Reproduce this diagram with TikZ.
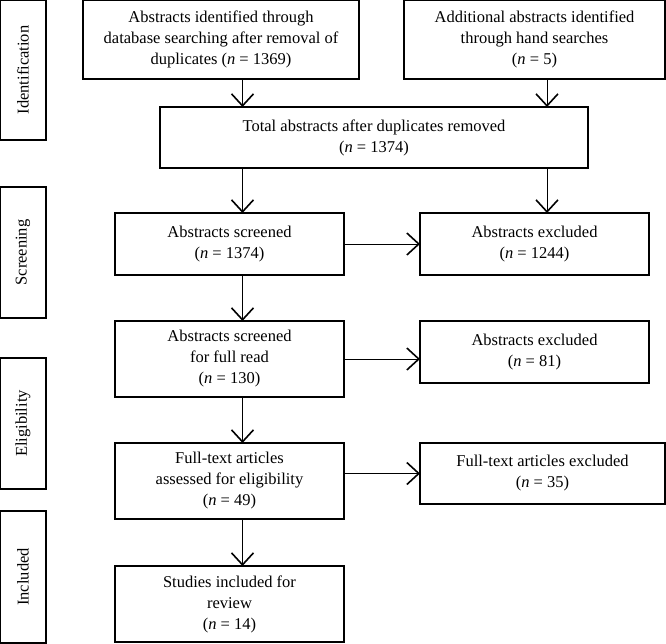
\documentclass[tikz,border=0pt]{standalone}
\usepackage{fontspec}
\setmainfont{Liberation Serif}
\usetikzlibrary{positioning}
\usetikzlibrary{arrows.meta}
\newcommand{\nval}[1]{(\textit{n} = #1)}

\begin{document}
\begin{tikzpicture}[x=1pt, y=1pt,
    every node/.style={font=\fontsize{16.5}{21}\selectfont, inner sep=0pt, outer sep=0pt},
    flowbox/.style={draw, line width=1.3pt, align=center, minimum width=229pt, minimum height=62pt},
    stagebox/.style={draw, line width=1.3pt, rotate=90, minimum width=131pt, minimum height=46pt},
    flowarrow/.style={line width=1pt, -{Straight Barb[length=12pt, width=22pt, line width=1.6pt]}}]
    \useasboundingbox (0,0) rectangle (666,-643);
    % stages
    \node[stagebox, minimum width=140pt] (ident) at (23,-70) {Identification};
    \node[stagebox] (screen) at (23,-252.5) {Screening};
    \node[stagebox] (elig) at (23,-423.5) {Eligibility};
    \node[stagebox, minimum width=132pt] (incl) at (23,-577) {Included};
    % boxes
    \node[flowbox, minimum width=276pt, minimum height=79pt] (dbs) at (221,-39.5) {Abstracts identified through\\database searching after removal of\\duplicates \nval{1369}};
    \node[flowbox, minimum width=261pt, minimum height=79pt, right=45pt of dbs] (hand) {Additional abstracts identified\\through hand searches\\\nval{5}};
    \node[flowbox, minimum width=428pt, minimum height=61pt] (total) at (374,-137.5) {Total abstracts after duplicates removed\\\nval{1374}};
    \node[flowbox] (scr) at (229.5,-244) {Abstracts screened\\\nval{1374}};
    \node[flowbox, right=76pt of scr] (exc1) {Abstracts excluded\\\nval{1244}};
    \node[flowbox, minimum height=76pt, below=46pt of scr] (full) {Abstracts screened\\for full read\\\nval{130}};
    \node[flowbox, right=76pt of full.north east, anchor=north west] (exc2) {Abstracts excluded\\\nval{81}};
    \node[flowbox, minimum height=76pt, below=46pt of full] (ftx) {Full-text articles\\assessed for eligibility\\\nval{49}};
    \node[flowbox, minimum width=245pt, minimum height=61pt, right=76pt of ftx.north east, anchor=north west] (exc3) {Full-text articles excluded\\\nval{35}};
    \node[flowbox, minimum height=76pt, below=47pt of ftx] (stud) {Studies included for\\review\\\nval{14}};
    % arrow columns
    \coordinate (colL) at (242.5,0);
    \coordinate (colR) at (547,0);
    \draw[flowarrow] (dbs.south -| colL) -- (total.north -| colL);
    \draw[flowarrow] (hand.south -| colR) -- (total.north -| colR);
    \draw[flowarrow] (total.south -| colL) -- (scr.north -| colL);
    \draw[flowarrow] (total.south -| colR) -- (exc1.north -| colR);
    \draw[flowarrow] (scr) -- (exc1);
    \draw[flowarrow] (scr.south -| colL) -- (full.north -| colL);
    \draw[flowarrow] (full.east) -- (full -| exc2.west);
    \draw[flowarrow] (full.south -| colL) -- (ftx.north -| colL);
    \draw[flowarrow] (ftx.east |- exc3) -- (exc3.west);
    \draw[flowarrow] (ftx.south -| colL) -- (stud.north -| colL);
\end{tikzpicture}
\end{document}
